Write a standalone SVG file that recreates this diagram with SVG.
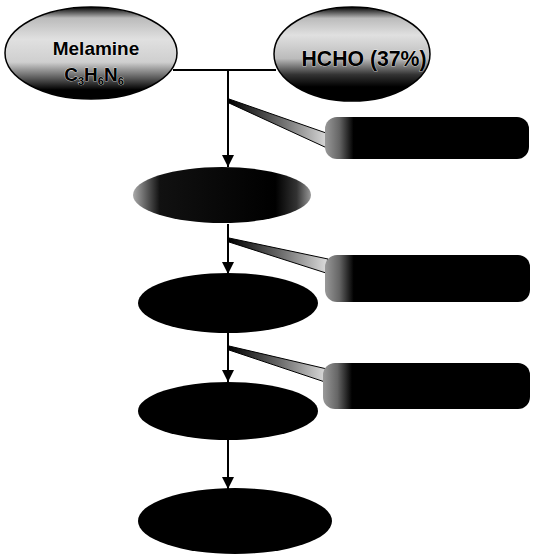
<svg xmlns="http://www.w3.org/2000/svg" width="536" height="555" viewBox="0 0 536 555">
<style>
.ln{stroke:#000;stroke-width:2;fill:none}
.lbl{font-family:"Liberation Sans",Arial,sans-serif;font-weight:bold;fill:#000;stroke:#fff;stroke-width:0.6;paint-order:stroke;text-anchor:middle}
.dark{fill:#000}
</style>
<defs>
<linearGradient id="gTop" x1="0" y1="0" x2="0" y2="1">
<stop offset="0" stop-color="#000"/>
<stop offset="0.12" stop-color="#bbb"/>
<stop offset="0.35" stop-color="#e0e0e0"/>
<stop offset="0.6" stop-color="#cfcfcf"/>
<stop offset="0.78" stop-color="#555"/>
<stop offset="0.9" stop-color="#000"/>
</linearGradient>
<linearGradient id="gTop2" x1="0" y1="0" x2="0" y2="1">
<stop offset="0" stop-color="#000"/>
<stop offset="0.12" stop-color="#bbb"/>
<stop offset="0.3" stop-color="#e0e0e0"/>
<stop offset="0.55" stop-color="#bbb"/>
<stop offset="0.72" stop-color="#333"/>
<stop offset="0.85" stop-color="#000"/>
</linearGradient>
<linearGradient id="gSide" x1="0" y1="0" x2="1" y2="0">
<stop offset="0" stop-color="#aaa"/>
<stop offset="0.15" stop-color="#111"/>
<stop offset="0.8" stop-color="#000"/>
<stop offset="0.92" stop-color="#333"/>
<stop offset="1" stop-color="#999"/>
</linearGradient>
<linearGradient id="gCall" x1="0" y1="0" x2="1" y2="0">
<stop offset="0" stop-color="#999"/>
<stop offset="0.07" stop-color="#666"/>
<stop offset="0.14" stop-color="#000"/>
<stop offset="1" stop-color="#000"/>
</linearGradient>
<linearGradient id="gWedge" x1="0" y1="0" x2="1" y2="0">
<stop offset="0" stop-color="#000"/>
<stop offset="0.5" stop-color="#666"/>
<stop offset="1" stop-color="#ddd"/>
</linearGradient>
<marker id="arr" viewBox="0 0 10 10" refX="10" refY="5" markerWidth="6.5" markerHeight="6" orient="auto" markerUnits="strokeWidth">
<path d="M0,0 L10,5 L0,10 z" fill="#000"/>
</marker>
</defs>

<g id="connectors">
<line class="ln" x1="173" y1="70" x2="276" y2="70"/>
<line class="ln" x1="228" y1="70" x2="228" y2="167" marker-end="url(#arr)"/>
<line class="ln" x1="228" y1="224" x2="228" y2="274" marker-end="url(#arr)"/>
<line class="ln" x1="228" y1="333" x2="228" y2="382" marker-end="url(#arr)"/>
<line class="ln" x1="228" y1="440" x2="228" y2="489" marker-end="url(#arr)"/>
<polygon points="229,99 329,134 327,148 229,103" fill="url(#gWedge)" stroke="#000" stroke-width="1"/>
<polygon points="229,238 328,259 326,273 229,242" fill="url(#gWedge)" stroke="#000" stroke-width="1"/>
<polygon points="229,346 327,369 325,382 229,350" fill="url(#gWedge)" stroke="#000" stroke-width="1"/>
</g>

<g id="melamine">
<ellipse cx="91" cy="53" rx="86" ry="46" fill="url(#gTop)" stroke="#000" stroke-width="1.5"/>
<text class="lbl" x="96" y="55" font-size="19">Melamine</text>
<text class="lbl" x="94" y="81" font-size="19">C<tspan font-size="11" dy="4">3</tspan><tspan dy="-4">H</tspan><tspan font-size="11" dy="4">6</tspan><tspan dy="-4">N</tspan><tspan font-size="11" dy="4">6</tspan></text>
</g>

<g id="hcho">
<ellipse cx="352" cy="54" rx="78" ry="47" fill="url(#gTop2)" stroke="#000" stroke-width="1.5"/>
<text class="lbl" x="364" y="66" font-size="22" textLength="125" lengthAdjust="spacingAndGlyphs">HCHO (37%)</text>
</g>

<g id="callout1">
<rect x="325" y="117" width="204" height="42" rx="12" fill="url(#gCall)"/>
</g>

<g id="step1">
<ellipse cx="222" cy="195" rx="89" ry="28" fill="url(#gSide)"/>
</g>

<g id="callout2">
<rect x="325" y="255" width="205" height="47" rx="12" fill="url(#gCall)"/>
</g>

<g id="step2">
<ellipse cx="228" cy="303" rx="90" ry="30" class="dark"/>
</g>

<g id="callout3">
<rect x="323" y="363" width="207" height="46" rx="12" fill="url(#gCall)"/>
</g>

<g id="step3">
<ellipse cx="228" cy="411" rx="90" ry="29" class="dark"/>
</g>

<g id="step4">
<ellipse cx="235" cy="521" rx="97" ry="33" class="dark"/>
</g>
</svg>
